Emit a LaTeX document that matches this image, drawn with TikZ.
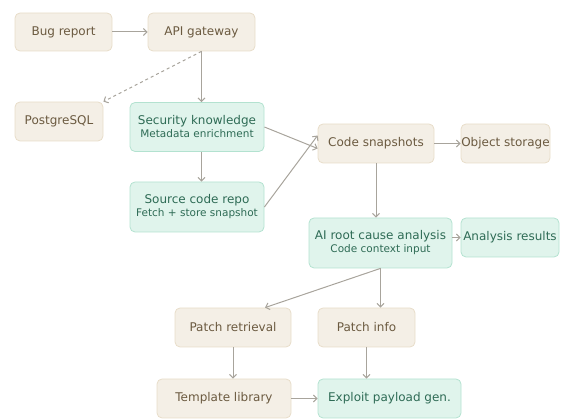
\documentclass[tikz,border=0pt]{standalone}
\usepackage{fontspec}
\setmainfont{DejaVu Sans}
\usetikzlibrary{arrows.meta}
\definecolor{bfill}{HTML}{F4EFE6}
\definecolor{bdraw}{HTML}{E8DDC9}
\definecolor{btext}{HTML}{6B5A40}
\definecolor{gfill}{HTML}{E0F4EC}
\definecolor{gdraw}{HTML}{B3E2D0}
\definecolor{gtext}{HTML}{2E6B55}
\definecolor{arr}{HTML}{A8A49C}
\tikzset{
  box/.style={rounded corners=5pt, line width=0.8pt, inner sep=0pt, align=center, font=\fontsize{12}{14}\selectfont},
  beige/.style={box, fill=bfill, draw=bdraw, text=btext},
  green/.style={box, fill=gfill, draw=gdraw, text=gtext},
  conn/.style={draw=arr, line width=1pt, -{Straight Barb[length=3.5pt,width=7pt]}},
}
\newcommand{\subt}[1]{{\fontsize{10.5}{12}\selectfont #1}}
\begin{document}
\begin{tikzpicture}[x=1pt,y=-1pt]
\useasboundingbox (0,0) rectangle (565,419);
\node[beige, minimum width=97pt, minimum height=38pt] (bug) at (63.5,32) {Bug report};
\node[beige, minimum width=107pt, minimum height=38pt] (api) at (201.5,32) {API gateway};
\node[beige, minimum width=88pt, minimum height=39pt] (pg) at (59,121.5) {PostgreSQL};
\node[green, minimum width=134pt, minimum height=49pt] (sec) at (197,127) {Security knowledge\\[-1pt]\subt{Metadata enrichment}};
\node[beige, minimum width=116pt, minimum height=39pt] (snap) at (376,143.5) {Code snapshots};
\node[beige, minimum width=89pt, minimum height=39pt] (obj) at (505.5,143.5) {Object storage};
\node[green, minimum width=134pt, minimum height=50pt] (src) at (197,207) {Source code repo\\[-1pt]\subt{Fetch + store snapshot}};
\node[green, minimum width=143pt, minimum height=50pt] (ai) at (380.5,243) {AI root cause analysis\\[-1pt]\subt{Code context input}};
\node[green, minimum width=98pt, minimum height=39pt] (res) at (510,237.5) {Analysis results};
\node[beige, minimum width=116pt, minimum height=39pt] (pr) at (233,327.5) {Patch retrieval};
\node[beige, minimum width=97pt, minimum height=39pt] (pi) at (366.5,327.5) {Patch info};
\node[beige, minimum width=134pt, minimum height=39pt] (tl) at (224,398.5) {Template library};
\node[green, minimum width=143pt, minimum height=39pt] (ex) at (389.5,398.5) {Exploit payload gen.};

\draw[conn] (bug) -- (api);
\draw[conn] (api.south) -- (api.south |- sec.north);
\draw[conn, dashed] (api.south) -- (pg.north east);
\draw[conn] (sec.east) -- ([yshift=-5pt]snap.west);
\draw[conn] (src.east) -- ([yshift=8pt]snap.west);
\draw[conn] (api.south |- sec.south) -- (api.south |- src.north);
\draw[conn] (snap) -- (obj);
\draw[conn] (snap.south) -- ([xshift=-4.5pt]ai.north);
\draw[conn] (ai.east |- res.west) -- (res.west);
\draw[conn] (ai.south) -- ([xshift=32pt]pr.north);
\draw[conn] (ai.south) -- (ai.south |- pi.north);
\draw[conn] (pr) -- (pr.south |- tl.north);
\draw[conn] (pi) -- (pi.south |- ex.north);
\draw[conn] (tl) -- (ex);
\end{tikzpicture}
\end{document}
